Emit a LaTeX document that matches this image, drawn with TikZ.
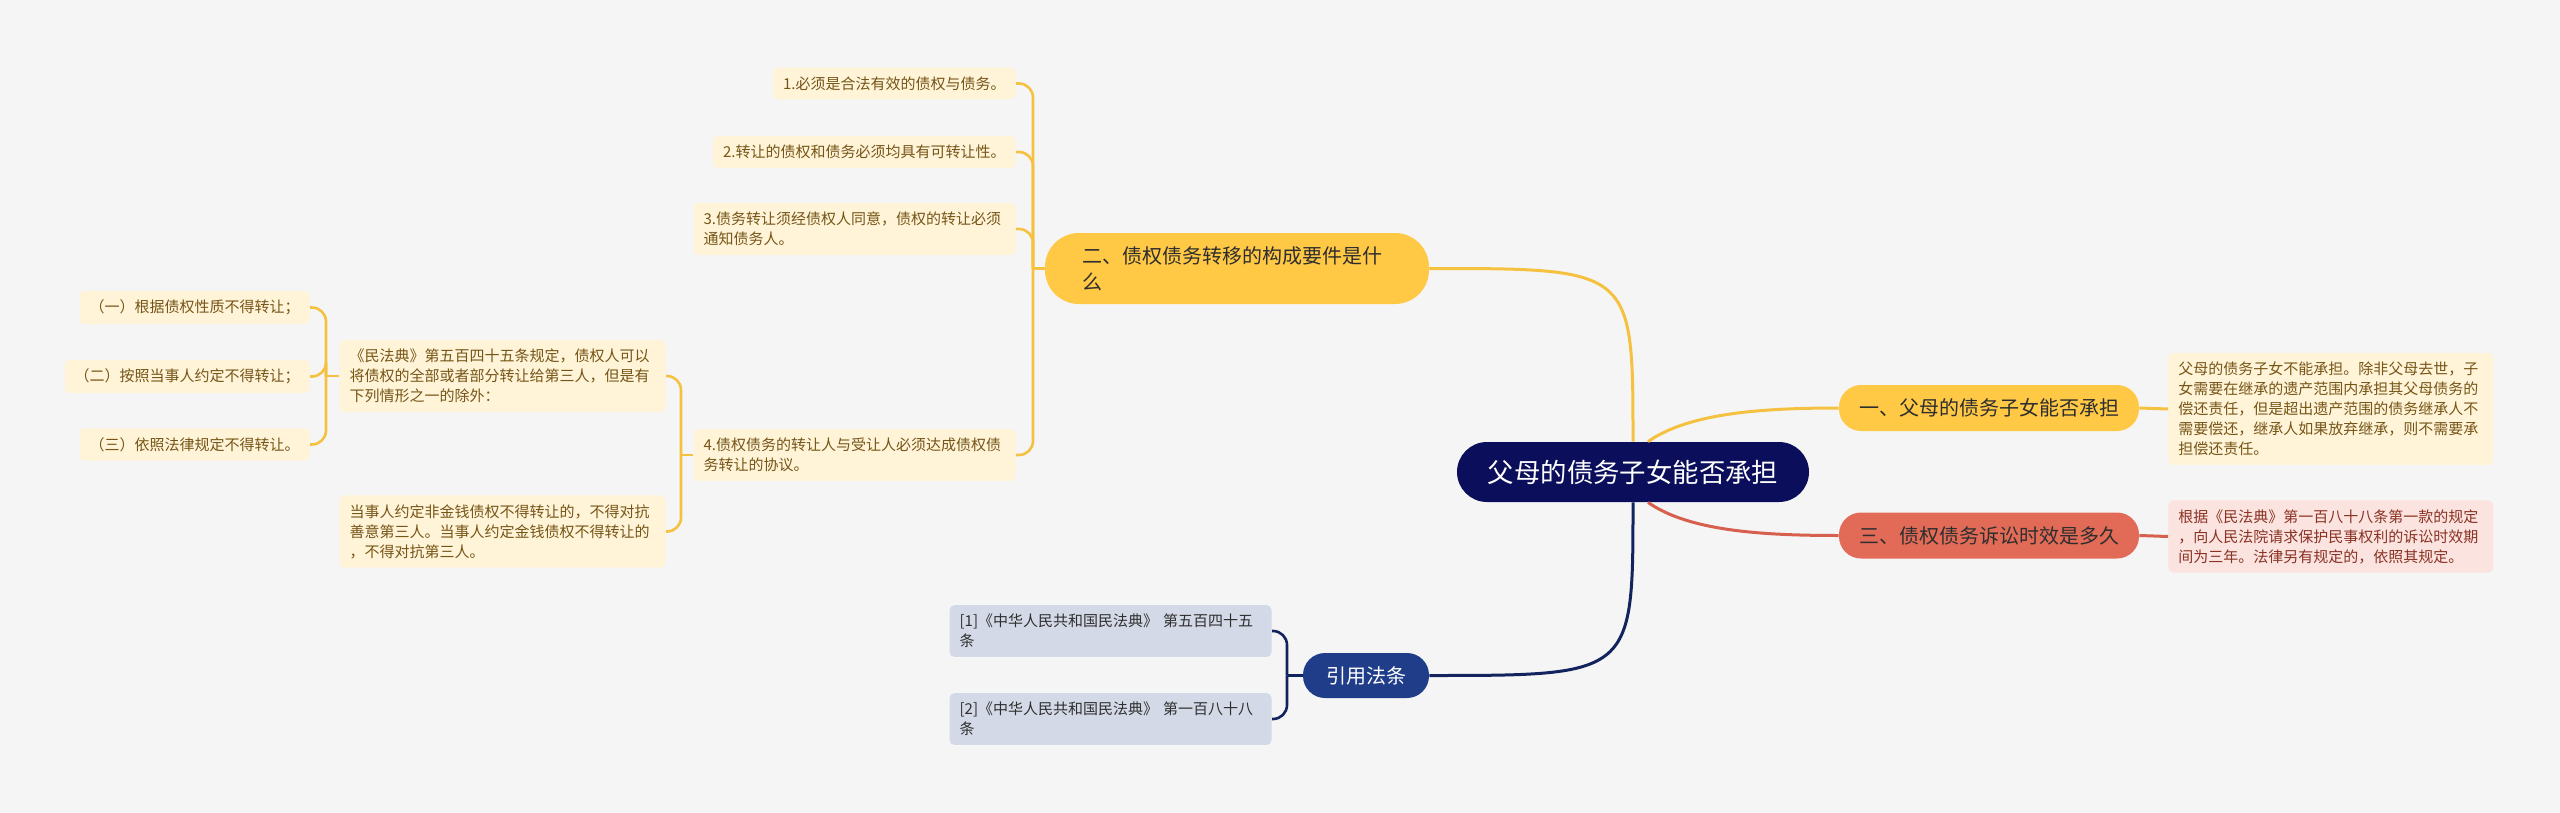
\documentclass[tikz,border=0pt]{standalone}
\usepackage{fontspec}
\setmainfont{Noto Sans CJK SC}
\definecolor{bg}{HTML}{F5F5F5}
\definecolor{rootfill}{HTML}{0B0F5B}
\definecolor{yfill}{HTML}{FFC845}
\definecolor{yline}{HTML}{F5C140}
\definecolor{yleaffill}{HTML}{FFF3D8}
\definecolor{yleaftext}{HTML}{765617}
\definecolor{rfill}{HTML}{E26B58}
\definecolor{rline}{HTML}{D65F4D}
\definecolor{rleaffill}{HTML}{FBE3DF}
\definecolor{rleaftext}{HTML}{8A3224}
\definecolor{bfill}{HTML}{1F3D89}
\definecolor{bline}{HTML}{13235E}
\definecolor{bleaffill}{HTML}{D4D9E7}
\definecolor{bleaftext}{HTML}{2F2F2F}
\definecolor{btext}{HTML}{2E2E2E}
\tikzset{
  mainnode/.style={fill=rootfill, text=white, rounded corners=15pt, minimum width=176pt, minimum height=30pt, inner sep=0pt, font=\fontsize{13.2}{15}\selectfont},
  branch/.style={rounded corners=11pt, minimum height=23pt, inner sep=0pt, font=\fontsize{10}{13}\selectfont},
  box/.style={rounded corners=2.5pt, inner xsep=5pt, inner ysep=4.5pt, align=left, font=\fontsize{7.5}{10}\selectfont},
  yleaf/.style={box, fill=yleaffill, text=yleaftext},
  rleaf/.style={box, fill=rleaffill, text=rleaftext},
  bleaf/.style={box, fill=bleaffill, text=bleaftext},
  curve/.style={line width=1.5pt},
  bracket/.style={line width=1.3pt, rounded corners=7pt},
}
\begin{document}
\begin{tikzpicture}[x=0.5pt,y=-0.5pt]
\fill[bg] (0,0) rectangle (2560,813);

\node[mainnode] (root) at (1633,472) {父母的债务子女能否承担};

\node[branch, fill=yfill, text=btext, minimum width=192pt, minimum height=35.5pt, rounded corners=17pt, text width=155pt, align=left, inner xsep=18.5pt] (b2) at (1237,268.5) {二、债权债务转移的构成要件是什\\么};
\node[branch, fill=yfill, text=btext, minimum width=150pt] (b1) at (1989,408) {一、父母的债务子女能否承担};
\node[branch, fill=rfill, text=btext, minimum width=150pt] (b3) at (1989,535.5) {三、债权债务诉讼时效是多久};
\node[branch, fill=bfill, text=white, minimum width=63pt, minimum height=22.5pt] (cite) at (1366,675.5) {引用法条};

\node[yleaf, anchor=east] (l1) at (1016,83.5) {1.必须是合法有效的债权与债务。};
\node[yleaf, anchor=east] (l2) at (1016,152) {2.转让的债权和债务必须均具有可转让性。};
\node[yleaf, anchor=east, text width=151pt] (l3) at (1016,229) {3.债务转让须经债权人同意，债权的转让必须\\通知债务人。};
\node[yleaf, anchor=east, text width=151pt] (l4) at (1016,455) {4.债权债务的转让人与受让人必须达成债权债\\务转让的协议。};
\node[yleaf, anchor=east, text width=153pt] (m1) at (666,376) {《民法典》第五百四十五条规定，债权人可以\\将债权的全部或者部分转让给第三人，但是有\\下列情形之一的除外：};
\node[yleaf, anchor=east, text width=153pt] (m2) at (666,531.5) {当事人约定非金钱债权不得转让的，不得对抗\\善意第三人。当事人约定金钱债权不得转让的\\，不得对抗第三人。};
\node[yleaf, anchor=east] (s1) at (310,307.5) {（一）根据债权性质不得转让；};
\node[yleaf, anchor=east] (s2) at (310,376.5) {（二）按照当事人约定不得转让；};
\node[yleaf, anchor=east] (s3) at (310,444.5) {（三）依照法律规定不得转让。};

\node[yleaf, anchor=west, text width=152.5pt] (d1) at (2168,409) {父母的债务子女不能承担。除非父母去世，子\\女需要在继承的遗产范围内承担其父母债务的\\偿还责任，但是超出遗产范围的债务继承人不\\需要偿还，继承人如果放弃继承，则不需要承\\担偿还责任。};
\node[rleaf, anchor=west, text width=152.5pt] (d3) at (2168,536.5) {根据《民法典》第一百八十八条第一款的规定\\，向人民法院请求保护民事权利的诉讼时效期\\间为三年。法律另有规定的，依照其规定。};

\node[bleaf, anchor=east, text width=151pt] (c1) at (1272,631) {[1]《中华人民共和国民法典》 第五百四十五\\条};
\node[bleaf, anchor=east, text width=151pt] (c2) at (1272,719) {[2]《中华人民共和国民法典》 第一百八十八\\条};

\draw[curve, yline] (root.north) .. controls (root.north |- b2.east) .. (b2.east);
\draw[curve, yline] ([xshift=7.5pt]root.north) .. controls +(40,-28) and +(-80,0) .. (b1.west);
\draw[curve, rline] ([xshift=7.5pt]root.south) .. controls +(40,28) and +(-80,0) .. (b3.west);
\draw[curve, bline] (root.south) .. controls (root.south |- cite.east) .. (cite.east);

\draw[curve, yline] (b1.east) -- (d1.west);
\draw[curve, rline] (b3.east) -- (d3.west);

\coordinate (j2) at (1033,268.5);
\draw[bracket, yline] (b2.west) -- (j2);
\foreach \n in {l1,l2,l3,l4}
  \draw[bracket, yline] (j2) |- (\n.east);

\coordinate (j4) at (681,455);
\draw[bracket, yline] (l4.west) -- (j4);
\foreach \n in {m1,m2}
  \draw[bracket, yline] (j4) |- (\n.east);

\coordinate (jm) at (326,376);
\draw[bracket, yline] (m1.west) -- (jm);
\foreach \n in {s1,s2,s3}
  \draw[bracket, yline] (jm) |- (\n.east);

\coordinate (jc) at (1287,675.5);
\draw[bracket, bline] (cite.west) -- (jc);
\foreach \n in {c1,c2}
  \draw[bracket, bline] (jc) |- (\n.east);
\end{tikzpicture}
\end{document}
